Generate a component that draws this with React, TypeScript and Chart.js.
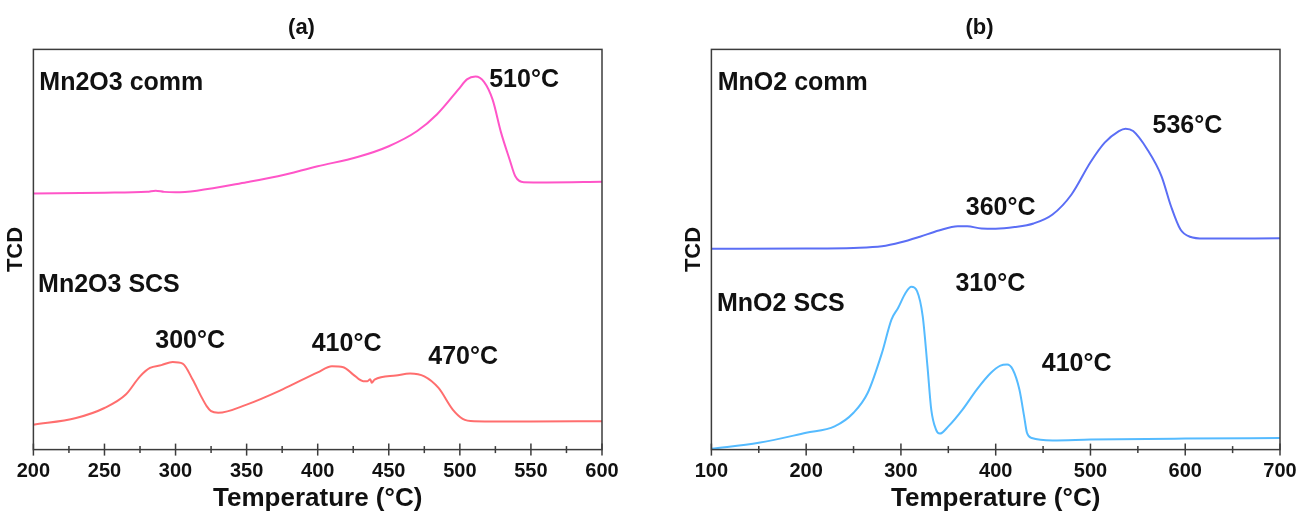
import React, { useEffect, useRef } from "react";
import { Chart, registerables } from "chart.js";

Chart.register(...registerables);

const FONT = '"Liberation Sans", Arial, Helvetica, sans-serif';

// ---------- Panel (a) data ----------
const aTicksMin = 200;
const aTicksMax = 600;
const aTickStep = 50;
const aMinorStep = 25;

const aCommT = [200, 250, 280, 286, 292, 300, 315, 350, 372, 400, 428, 450, 470, 484, 499, 505, 511, 517, 523, 529, 535, 539, 545, 561, 600];
const aCommV = [64.0, 64.2, 64.4, 64.7, 64.4, 64.3, 64.7, 66.8, 68.3, 70.8, 73.1, 75.8, 79.6, 83.8, 90.0, 92.5, 93.2, 91.9, 87.5, 79.2, 72.5, 68.3, 66.8, 66.75, 66.9];

const aScsT = [200, 230, 250, 265, 275, 282, 290, 298, 305, 312, 318, 322, 325, 330, 350, 375, 400, 410, 418, 425, 432, 435, 437, 438, 440, 455, 465, 475, 485, 495, 502, 510, 550, 600];
const aScsV = [6.2, 7.9, 10.4, 13.75, 18.3, 20.4, 21.1, 21.9, 21.5, 17.5, 13.3, 10.8, 9.6, 9.2, 11.25, 15.0, 19.3, 20.8, 20.6, 18.75, 17.1, 17.1, 17.6, 16.7, 17.5, 18.5, 19.0, 18.3, 15.4, 10.0, 7.7, 7.1, 7.0, 7.1];

const aNoteText = ["Mn2O3 comm", "510°C", "Mn2O3 SCS", "300°C", "410°C", "470°C"];
const aNoteT = [204.2, 545.2, 203.3, 310.3, 420.3, 502.3];
const aNoteV = [89.9, 90.5, 39.5, 25.5, 24.7, 21.3];

// ---------- Panel (b) data ----------
const bTicksMin = 100;
const bTicksMax = 700;
const bTickStep = 100;
const bMinorStep = 50;

const bCommT = [100, 200, 250, 280, 300, 320, 340, 360, 370, 385, 400, 420, 440, 460, 480, 500, 515, 530, 537, 545, 560, 575, 585, 595, 605, 620, 700];
const bCommV = [50.2, 50.25, 50.4, 50.8, 51.8, 53.2, 54.75, 55.8, 55.8, 55.25, 55.2, 55.6, 56.5, 58.75, 63.75, 71.8, 76.7, 79.6, 80.2, 79.6, 75.0, 68.3, 60.8, 55.0, 53.2, 52.75, 52.8];

const bScsT = [100, 150, 200, 230, 250, 265, 280, 290, 297, 305, 311, 317, 323, 328, 332, 337, 341, 350, 365, 380, 395, 405, 412, 418, 425, 430, 433, 438, 460, 500, 600, 700];
const bScsV = [0.2, 1.7, 4.2, 5.8, 9.2, 14.2, 24.2, 32.5, 35.4, 39.2, 40.7, 39.6, 33.3, 20.8, 10.0, 5.0, 4.0, 5.8, 10.0, 15.0, 19.2, 21.0, 21.25, 20.0, 15.0, 8.3, 4.2, 2.9, 2.3, 2.5, 2.75, 2.9];

const bNoteText = ["MnO2 comm", "536°C", "360°C", "310°C", "MnO2 SCS", "410°C"];
const bNoteT = [106.7, 602.3, 405.2, 394.3, 105.9, 485.4];
const bNoteV = [89.9, 79.2, 58.6, 39.7, 34.7, 19.7];

const xTitle = "Temperature (°C)";
const yTitle = "TCD";

type Series = { t: number[]; v: number[]; color: string };

type PanelProps = {
  title: string;
  series: Series[];
  xMin: number;
  xMax: number;
  step: number;
  minor: number;
  noteText: string[];
  noteT: number[];
  noteV: number[];
  left: number;
  width: number;
  padLeft: number;
  padRight: number;
};

function Panel(p: PanelProps) {
  const ref = useRef<HTMLCanvasElement | null>(null);

  useEffect(() => {
    if (!ref.current) return;
    const frameTicks = {
      id: "frameTicks",
      afterDraw(chart: any) {
        const { ctx, chartArea, scales } = chart;
        const { left, right, top, bottom } = chartArea;
        const x = scales.x;
        ctx.save();
        ctx.strokeStyle = "#3c3c3c";
        ctx.lineWidth = 1.5;
        ctx.strokeRect(left, top, right - left, bottom - top);
        for (let v = p.xMin; v <= p.xMax + 1e-9; v += p.minor) {
          const px = x.getPixelForValue(v);
          const r = (v - p.xMin) / p.step;
          const major = Math.abs(r - Math.round(r)) < 1e-6;
          const len = major ? 6 : 3.5;
          ctx.beginPath();
          ctx.moveTo(px, bottom - len);
          ctx.lineTo(px, bottom + len);
          ctx.stroke();
        }
        ctx.restore();
      },
    };
    const notes = {
      id: "notes",
      afterDatasetsDraw(chart: any) {
        const { ctx, scales } = chart;
        ctx.save();
        ctx.font = `bold 25px ${FONT}`;
        ctx.fillStyle = "#111";
        ctx.textBaseline = "alphabetic";
        p.noteText.forEach((txt, i) => {
          ctx.textAlign = txt.endsWith("°C") ? "center" : "left";
          ctx.fillText(txt, scales.x.getPixelForValue(p.noteT[i]), scales.y.getPixelForValue(p.noteV[i]));
        });
        ctx.restore();
      },
    };

    const chart = new Chart(ref.current, {
      type: "line",
      data: {
        datasets: p.series.map((s) => ({
          data: s.t.map((t, i) => ({ x: t, y: s.v[i] })),
          borderColor: s.color,
          backgroundColor: s.color,
          borderWidth: 2,
          pointRadius: 0,
          cubicInterpolationMode: "monotone" as const,
          fill: false,
        })),
      },
      options: {
        animation: false,
        responsive: false,
        devicePixelRatio: 1,
        layout: { padding: { left: p.padLeft, right: p.padRight, top: 0, bottom: 0 } },
        plugins: {
          legend: { display: false },
          tooltip: { enabled: false },
          title: {
            display: true,
            text: p.title,
            color: "#111",
            font: { family: FONT, size: 22, weight: "bold", lineHeight: 1.2 },
            padding: { top: 15, bottom: 8 },
          },
        },
        scales: {
          x: {
            type: "linear",
            min: p.xMin,
            max: p.xMax,
            grid: { display: false, drawTicks: false, tickLength: 0 },
            border: { display: false },
            ticks: {
              stepSize: p.step,
              color: "#111",
              padding: 10,
              maxRotation: 0,
              font: { family: FONT, size: 20, weight: "bold" },
            },
            title: {
              display: true,
              text: xTitle,
              color: "#111",
              font: { family: FONT, size: 26, weight: "bold", lineHeight: 0.4 },
              padding: { top: 0, bottom: 7 },
            },
          },
          y: {
            min: 0,
            max: 100,
            grid: { display: false, drawTicks: false, tickLength: 0 },
            border: { display: false },
            ticks: { display: false },
            title: {
              display: true,
              text: yTitle,
              color: "#111",
              font: { family: FONT, size: 22, weight: "bold", lineHeight: 1.2 },
              padding: { top: 2, bottom: 4 },
            },
          },
        },
      },
      plugins: [frameTicks, notes],
    } as any);
    return () => chart.destroy();
  }, []);

  return (
    <canvas
      ref={ref}
      width={p.width}
      height={511}
      style={{ position: "absolute", left: p.left, top: 0, width: p.width, height: 511, display: "block" }}
    />
  );
}

export default function App() {
  return (
    <div style={{ position: "absolute", left: 0, top: 0, width: 1309, height: 511, background: "#fff" }}>
      <Panel
        title="(a)"
        series={[
          { t: aCommT, v: aCommV, color: "#ff55c8" },
          { t: aScsT, v: aScsV, color: "#ff6e6e" },
        ]}
        xMin={aTicksMin}
        xMax={aTicksMax}
        step={aTickStep}
        minor={aMinorStep}
        noteText={aNoteText}
        noteT={aNoteT}
        noteV={aNoteV}
        left={0}
        width={654}
        padLeft={1}
        padRight={52}
      />
      <Panel
        title="(b)"
        series={[
          { t: bCommT, v: bCommV, color: "#5b6ef5" },
          { t: bScsT, v: bScsV, color: "#55bbff" },
        ]}
        xMin={bTicksMin}
        xMax={bTicksMax}
        step={bTickStep}
        minor={bMinorStep}
        noteText={bNoteText}
        noteT={bNoteT}
        noteV={bNoteV}
        left={654}
        width={655}
        padLeft={25}
        padRight={29}
      />
    </div>
  );
}
